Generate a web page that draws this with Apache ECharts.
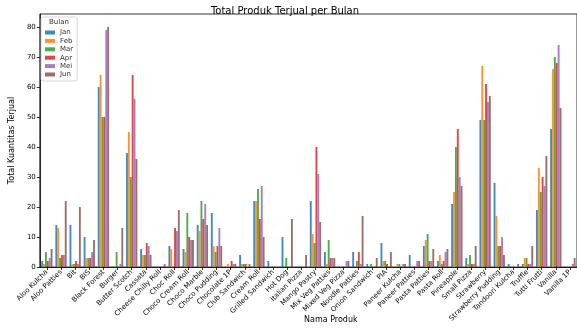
<!DOCTYPE html>
<html><head><meta charset="utf-8">
<script src="https://cdn.jsdelivr.net/npm/echarts@6/dist/echarts.min.js"></script>
<style>html,body{margin:0;padding:0;background:#fff}#c{width:577px;height:329px}</style>
</head><body><div id="c"></div>
<script>
const categories = ["Aloo Kulcha","Aloo Patties","Bit","BIS","Black Forest","Burger","Butter Scotch","Cassata","Cheese Chilly Roll","Choc Roll","Choco Cream Roll","Choco Marble","Choco Pudding","Chocolate 1P","Club Sandwich","Cream Roll","Grilled Sandwich","Hot Dog","Italian Pizza","Mango Pastry","Mix Veg Patties","Mixed Veg Pizza","Noodle Patties","Onion Sandwich","PIA","Paneer Kulcha","Paneer Patties","Pasta Patties","Pasta Roll","Pineapple","Small Pizza","Strawberry","Strawberry Pudding","Tandoori Kulcha","Truffle","Tutti Frutti","Vanilla","Vanilla 1P"];
const months = ["Jan","Feb","Mar","Apr","Mei","Jun"];
const jan = [2,14,14,10,60,0,38,6,0,7,6,14,18,0,4,22,2,10,0,22,5,0,5,1,8,0,4,7,2,21,3,49,28,1,1,19,46,0];
const feb = [1,13,1,3,64,0,45,4,0,6,5,12,7,1,1,22,0,0,0,11,1,0,0,0,2,1,0,9,4,25,1,67,17,0,3,33,66,0];
const mar = [5,3,1,3,50,5,30,4,0,0,18,22,5,0,1,26,0,3,0,8,9,0,2,1,2,1,0,11,1,40,4,49,7,0,3,25,70,0];
const apr = [2,4,2,3,50,0,64,8,0,13,10,16,7,2,1,16,0,0,0,40,3,0,5,0,1,0,0,2,2,46,1,61,7,0,1,30,68,0];
const mei = [3,4,1,5,79,1,56,7,0,12,9,21,13,1,0,27,0,0,0,31,3,2,1,0,0,1,2,2,5,30,1,55,10,0,1,27,74,1];
const jun = [6,22,20,9,80,13,36,4,1,19,9,14,7,1,1,10,0,16,4,15,3,2,17,3,5,1,2,6,6,27,7,57,4,1,7,37,53,3];
const yTicks = [0,10,20,30,40,50,60,70,80];
const seriesData = [jan,feb,mar,apr,mei,jun];
const colors = ["#1f77b4","#ff7f0e","#2ca02c","#d62728","#9467bd","#8c564b"];
const FONT = "DejaVu Sans";

const chart = echarts.init(document.getElementById('c'), null, {renderer:'canvas'});
chart.setOption({
  animation:false,
  textStyle:{fontFamily:FONT},
  color:colors,
  title:{text:"Total Produk Terjual per Bulan", left:280, top:1, textAlign:'center',
    textStyle:{fontFamily:FONT,fontSize:10,fontWeight:'normal',color:'#000'}},
  grid:{left:38,right:-3,top:14,bottom:62,show:true,borderColor:'#000',borderWidth:0.8,backgroundColor:'transparent'},
  legend:{orient:'vertical',left:41,top:17,padding:[12,4,3,4],itemWidth:10,itemHeight:4,itemGap:1.4,
    backgroundColor:'rgba(255,255,255,0.85)',borderColor:'#ccc',borderWidth:0.8,borderRadius:2,
    icon:'rect',textStyle:{fontFamily:FONT,fontSize:7,color:'#333',lineHeight:7},data:months},
  graphic:[
    {type:'text',left:49,top:19,style:{text:'Bulan',font:'7px "DejaVu Sans"',fill:'#333'},z:100},
    {type:'text',left:304,top:316,style:{text:'Nama Produk',font:'8px "DejaVu Sans"',fill:'#000',textAlign:'center'}}
  ],
  xAxis:{type:'category',data:categories,
    axisLine:{show:true,lineStyle:{color:'#000',width:0.8}},
    axisTick:{show:true,alignWithLabel:true,length:3,lineStyle:{color:'#000',width:0.8}},
    axisLabel:{rotate:45,interval:0,fontSize:7,color:'#000',fontFamily:FONT,margin:4}},
  yAxis:{type:'value',min:0,max:84.3,interval:10,
    name:'Total Kuantitas Terjual',nameLocation:'middle',nameGap:18,nameRotate:90,
    nameTextStyle:{fontSize:8,color:'#000',fontFamily:FONT},
    splitLine:{show:false},
    axisLine:{show:true,lineStyle:{color:'#000',width:0.8}},
    axisTick:{show:true,length:3,customValues:yTicks,lineStyle:{color:'#000',width:0.8}},
    axisLabel:{fontSize:7,color:'#000',fontFamily:FONT,margin:4,customValues:yTicks}},
  series:months.map((m,i)=>({name:m,type:'bar',data:seriesData[i],barGap:'0%',barCategoryGap:'20%',
    itemStyle:{color:colors[i],opacity:0.85}}))
});
</script></body></html>
